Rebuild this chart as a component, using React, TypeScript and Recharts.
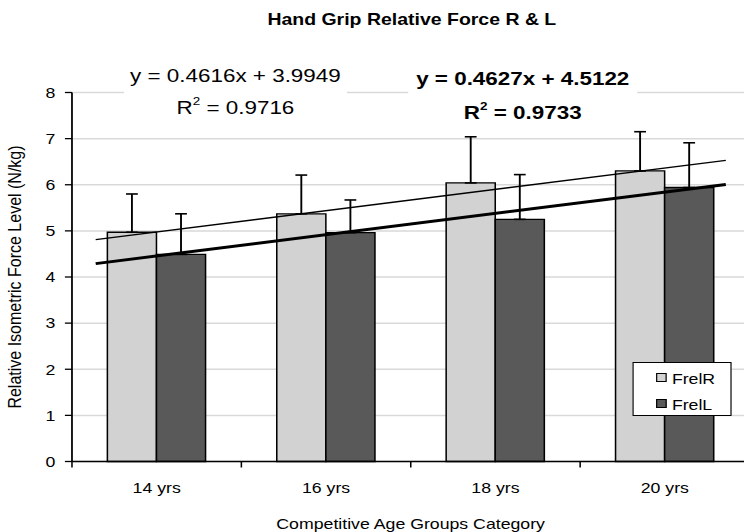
import { Bar, CartesianGrid, ComposedChart, ErrorBar, ReferenceLine, XAxis, YAxis } from "recharts";

// categories and series
const ages = ["14 yrs", "16 yrs", "18 yrs", "20 yrs"];
const frelR = [4.97, 5.37, 6.04, 6.3];
const frelL = [4.49, 4.96, 5.25, 5.94];
const sdR = [0.83, 0.84, 1.0, 0.85];
const sdL = [0.88, 0.71, 0.97, 0.97];
const yTicks = [0, 1, 2, 3, 4, 5, 6, 7, 8];
// category centres sit on whole numbers, tick marks on the half steps between them
const xTicks = [-0.5, 0, 0.5, 1, 1.5, 2, 2.5, 3, 3.5];

// Excel linear trendlines, as printed on the chart (x = 1..4 for the categories)
const trendSlope = [0.4627, 0.4616];
const trendIntercept = [4.5122, 3.9949];
const trendR2 = [0.9733, 0.9716];
const trendSpan = [0.64, 4.36];

const rows = ages.map((age, i) => ({
  ix: i,
  age,
  FrelR: frelR[i],
  FrelL: frelL[i],
  errR: [0, sdR[i]],
  errL: [0, sdL[i]],
}));

const trendSegment = (k: number) =>
  trendSpan.map((x) => ({ x: x - 1, y: trendSlope[k] * x + trendIntercept[k] }));

// the reference is stretched sideways, so draw narrow and scale x
const STRETCH = 1.18;
const W = 644;
const H = 532;
const font = "'Liberation Sans', Arial, Helvetica, sans-serif";

function AgeTick(props: any) {
  const { x, y, payload } = props;
  const v = payload.value;
  if (!Number.isInteger(v)) {
    return <line x1={x} x2={x} y1={y} y2={y + 6} stroke="#000" strokeWidth={1.3} />;
  }
  return (
    <text x={x} y={y + 26.5} dy="0.355em" textAnchor="middle" fontSize={15} fill="#000" fontFamily={font}>
      {ages[v]}
    </text>
  );
}

const eq = (k: number) => `y = ${trendSlope[k].toFixed(4)}x + ${trendIntercept[k].toFixed(4)}`;

function EqBox({ k, left, width, top, bold, line1, line2 }: any) {
  const weight = bold ? 700 : 400;
  const cx = left + width / 2;
  const line = (y: number, content: any) => (
    <div
      style={{
        position: "absolute",
        left: cx,
        top: y,
        transform: "translate(-50%, -50%)",
        whiteSpace: "nowrap",
        fontSize: 19,
        fontWeight: weight,
        lineHeight: 1,
      }}
    >
      {content}
    </div>
  );
  return (
    <>
      <div style={{ position: "absolute", left, top, width, height: 60, background: "#fff" }} />
      {line(line1, eq(k))}
      {line(
        line2,
        <span>
          R<sup style={{ fontSize: "0.6em", position: "relative", top: "-0.15em", verticalAlign: "top" }}>2</sup> ={" "}
          {trendR2[k].toFixed(4)}
        </span>
      )}
    </>
  );
}

export default function App() {
  return (
    <div style={{ position: "fixed", left: 0, top: 0, width: 744, height: 532, overflow: "hidden", background: "#fff", fontFamily: font, color: "#000" }}>
      <div style={{ position: "absolute", left: 0, top: 0, width: W, height: H, transform: `scaleX(${STRETCH})`, transformOrigin: "0 0" }}>
        <ComposedChart width={W} height={H} data={rows} barGap={0} barSize={41.6} margin={{ top: 92.5, right: 8.8, bottom: 40.5, left: 0 }}>
          <CartesianGrid vertical={false} stroke="#d9d9d9" strokeWidth={1.5} />
          <XAxis
            dataKey="ix"
            type="number"
            domain={[-0.5, 3.5]}
            allowDataOverflow
            ticks={xTicks}
            interval={0}
            height={30}
            axisLine={{ stroke: "#000", strokeWidth: 1.5 }}
            tickLine={false}
            tickSize={0}
            tickMargin={0}
            tick={<AgeTick />}
          />
          <YAxis
            width={61}
            domain={[0, 8]}
            ticks={yTicks}
            interval={0}
            axisLine={{ stroke: "#000", strokeWidth: 1.5 }}
            tickLine={{ stroke: "#000", strokeWidth: 1.3 }}
            tickSize={6}
            tickMargin={8}
            tick={{ fontSize: 15, fill: "#000", fontFamily: font }}
          />
          <Bar dataKey="FrelR" fill="#d2d2d2" stroke="#000" strokeWidth={1.3} isAnimationActive={false}>
            <ErrorBar dataKey="errR" direction="y" width={5} stroke="#000" strokeWidth={1.6} />
          </Bar>
          <Bar dataKey="FrelL" fill="#595959" stroke="#000" strokeWidth={1.3} isAnimationActive={false}>
            <ErrorBar dataKey="errL" direction="y" width={5} stroke="#000" strokeWidth={1.6} />
          </Bar>
          <ReferenceLine segment={trendSegment(0)} stroke="#000" strokeWidth={1.3} ifOverflow="visible" />
          <ReferenceLine segment={trendSegment(1)} stroke="#000" strokeWidth={3} ifOverflow="visible" />
        </ComposedChart>

        {/* title and axis titles */}
        <div style={{ position: "absolute", left: 349, top: 19, transform: "translate(-50%, -50%)", whiteSpace: "nowrap", fontSize: 16.5, fontWeight: 700, lineHeight: 1 }}>
          Hand Grip Relative Force R &amp; L
        </div>
        <div style={{ position: "absolute", left: 348, top: 523, transform: "translate(-50%, -50%)", whiteSpace: "nowrap", fontSize: 15, lineHeight: 1 }}>
          Competitive Age Groups Category
        </div>
        <div style={{ position: "absolute", left: 12.7, top: 277, transform: "translate(-50%, -50%) rotate(-90deg)", whiteSpace: "nowrap", fontSize: 16, lineHeight: 1 }}>
          Relative Isometric Force Level (N/kg)
        </div>

        {/* trendline labels */}
        <EqBox k={1} left={105} width={189} top={60} bold={false} line1={75} line2={107} />
        <EqBox k={0} left={346} width={194} top={62} bold line1={78} line2={112} />

        {/* legend */}
        <div style={{ position: "absolute", left: 536.4, top: 362, width: 84, height: 54, boxSizing: "border-box", border: "1px solid #000", background: "#fff" }}>
          {[
            { name: "FrelR", color: "#d2d2d2", y: 15 },
            { name: "FrelL", color: "#595959", y: 41 },
          ].map((it) => (
            <div key={it.name}>
              <div style={{ position: "absolute", left: 18.5, top: it.y - 5, width: 9, height: 9, boxSizing: "border-box", border: "1px solid #000", background: it.color }} />
              <div style={{ position: "absolute", left: 32, top: it.y, transform: "translateY(-50%)", fontSize: 15, lineHeight: 1 }}>{it.name}</div>
            </div>
          ))}
        </div>
      </div>
    </div>
  );
}
